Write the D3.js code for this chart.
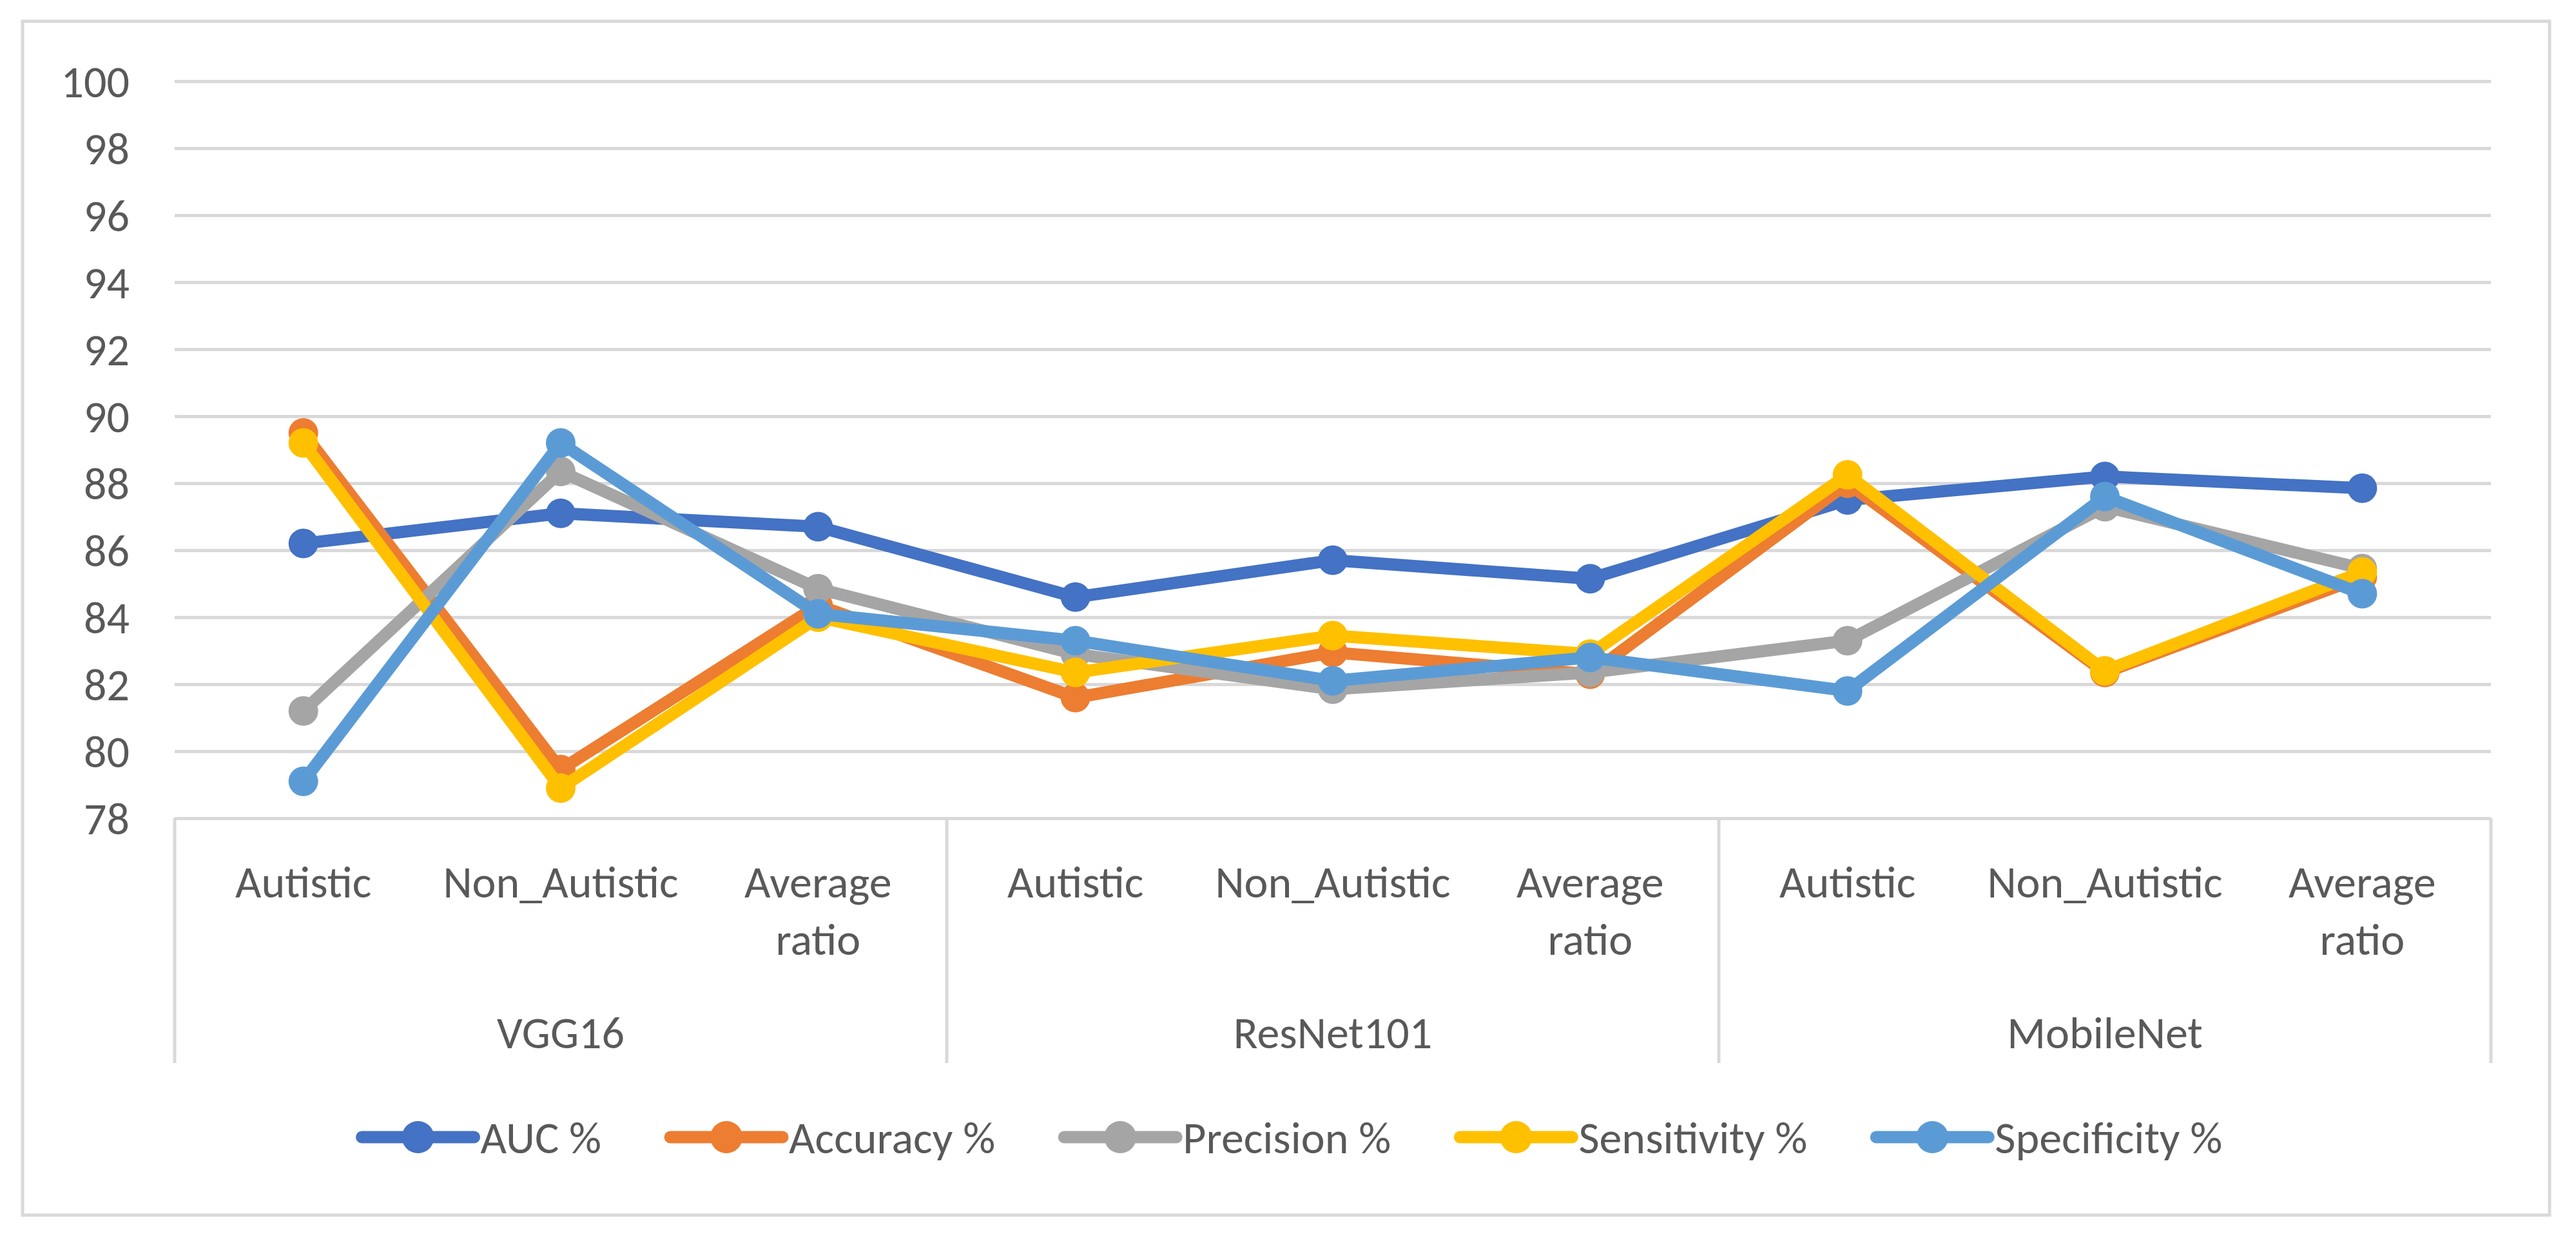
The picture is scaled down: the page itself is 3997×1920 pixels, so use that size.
<!DOCTYPE html>
<html>
<head>
<meta charset="utf-8">
<script src="https://cdn.jsdelivr.net/npm/d3@7"></script>
<style>
  body { margin: 0; background: #fff; }
  text { font-family: Carlito, Calibri, Lato, sans-serif; fill: #595959; }
</style>
</head>
<body>
<div id="chart"></div>
<script>
// values
const groups = ["VGG16", "ResNet101", "MobileNet"];
const subLabels = ["Autistic", "Non_Autistic", "Average ratio"];
const seriesNames = ["AUC %", "Accuracy %", "Precision %", "Sensitivity %", "Specificity %"];
const seriesColors = ["#4472C4", "#ED7D31", "#A5A5A5", "#FFC000", "#5B9BD5"];

const auc         = [86.2, 87.1, 86.7, 84.6, 85.7, 85.15, 87.5, 88.2, 87.85];
const accuracy    = [89.5, 79.45, 84.35, 81.6, 82.95, 82.3, 88.0, 82.35, 85.2];
const precision   = [81.2, 88.35, 84.85, 82.9, 81.85, 82.35, 83.3, 87.3, 85.45];
const sensitivity = [89.2, 78.9, 84.0, 82.35, 83.45, 82.9, 88.25, 82.4, 85.35];
const specificity = [79.1, 89.2, 84.1, 83.3, 82.1, 82.8, 81.8, 87.6, 84.7];

const yTicks = [78, 80, 82, 84, 86, 88, 90, 92, 94, 96, 98, 100];

function drawChart() {
  const W = 3997, H = 1920;
  const left = 271, right = 3865, top = 126, bottom = 1270;
  const fontSize = 70;

  const seriesValues = [auc, accuracy, precision, sensitivity, specificity];
  const categories = [];
  groups.forEach((g, gi) => {
    subLabels.forEach((s, si) => categories.push({ group: g, label: s, key: gi * 3 + si }));
  });

  const svg = d3.select("#chart")
    .append("svg")
    .attr("width", W)
    .attr("height", H);

  svg.append("rect")
    .attr("width", W).attr("height", H)
    .attr("fill", "#fff");

  // outer frame
  svg.append("rect")
    .attr("x", 35).attr("y", 33)
    .attr("width", 3956 - 35).attr("height", 1886 - 33)
    .attr("fill", "none")
    .attr("stroke", "#D9D9D9")
    .attr("stroke-width", 5);

  const x = d3.scaleBand()
    .domain(categories.map(d => d.key))
    .range([left, right]);
  const y = d3.scaleLinear()
    .domain([78, 100])
    .range([bottom, top]);
  const cx = i => x(i) + x.bandwidth() / 2;

  // gridlines
  const grid = svg.append("g")
    .attr("transform", "translate(" + left + ",0)")
    .call(d3.axisRight(y).tickValues(yTicks).tickSize(right - left).tickFormat(""));
  grid.select(".domain").remove();
  grid.selectAll("line")
    .attr("stroke", "#D9D9D9")
    .attr("stroke-width", 5);

  // y labels
  const yAxis = svg.append("g")
    .attr("transform", "translate(" + 201 + ",0)")
    .call(d3.axisLeft(y).tickValues(yTicks).tickSize(0).tickPadding(0));
  yAxis.select(".domain").remove();
  yAxis.selectAll("text")
    .style("font-size", fontSize + "px")
    .attr("fill", "#595959")
    .attr("dy", "0.35em");

  // category box under the plot
  const box = svg.append("g");
  const dividers = [left, x(3), x(6), right];
  box.selectAll("line.div")
    .data(dividers)
    .enter()
    .append("line")
    .attr("x1", d => d).attr("x2", d => d)
    .attr("y1", bottom).attr("y2", 1650)
    .attr("stroke", "#D9D9D9")
    .attr("stroke-width", 5);

  const catText = box.selectAll("text.cat")
    .data(categories)
    .enter()
    .append("text")
    .attr("class", "cat")
    .attr("text-anchor", "middle")
    .style("font-size", fontSize + "px");
  catText.each(function (d) {
    const words = d.label === "Average ratio" ? ["Average", "ratio"] : [d.label];
    words.forEach((w, k) => {
      d3.select(this).append("tspan")
        .attr("x", cx(d.key))
        .attr("y", 1368 + k * 89)
        .attr("dy", "0.35em")
        .text(w);
    });
  });

  box.selectAll("text.grp")
    .data(groups)
    .enter()
    .append("text")
    .attr("class", "grp")
    .attr("text-anchor", "middle")
    .attr("x", (d, i) => (x(i * 3) + x(i * 3 + 2) + x.bandwidth()) / 2)
    .attr("y", 1602)
    .attr("dy", "0.35em")
    .style("font-size", fontSize + "px")
    .text(d => d);

  // series lines + markers
  const line = d3.line()
    .x((d, i) => cx(i))
    .y(d => y(d));

  seriesValues.forEach((vals, si) => {
    const g = svg.append("g");
    g.append("path")
      .datum(vals)
      .attr("d", line)
      .attr("fill", "none")
      .attr("stroke", seriesColors[si])
      .attr("stroke-width", 19)
      .attr("stroke-linejoin", "round")
      .attr("stroke-linecap", "round");
    g.selectAll("circle")
      .data(vals)
      .enter()
      .append("circle")
      .attr("cx", (d, i) => cx(i))
      .attr("cy", d => y(d))
      .attr("r", 23)
      .attr("fill", seriesColors[si]);
  });

  // legend
  const legend = svg.append("g");
  const lineLen = 174, gapText = 10, gapItem = 107, legY = 1765;
  const items = legend.selectAll("g")
    .data(seriesNames)
    .enter()
    .append("g");
  items.append("line")
    .attr("x1", 0).attr("x2", lineLen)
    .attr("y1", 0).attr("y2", 0)
    .attr("stroke", (d, i) => seriesColors[i])
    .attr("stroke-width", 19)
    .attr("stroke-linecap", "round");
  items.append("circle")
    .attr("cx", lineLen / 2)
    .attr("r", 25)
    .attr("fill", (d, i) => seriesColors[i]);
  items.append("text")
    .attr("x", lineLen + gapText)
    .attr("dy", "0.35em")
    .style("font-size", fontSize + "px")
    .text(d => d);

  let offset = 0;
  const widths = [];
  items.each(function () {
    const w = lineLen + gapText + d3.select(this).select("text").node().getComputedTextLength();
    widths.push(w);
  });
  const total = d3.sum(widths) + gapItem * (widths.length - 1);
  let start = 2005 - total / 2;
  items.attr("transform", (d, i) => {
    const t = "translate(" + (start + offset) + "," + legY + ")";
    offset += widths[i] + gapItem;
    return t;
  });
}

drawChart();
</script>
</body>
</html>
